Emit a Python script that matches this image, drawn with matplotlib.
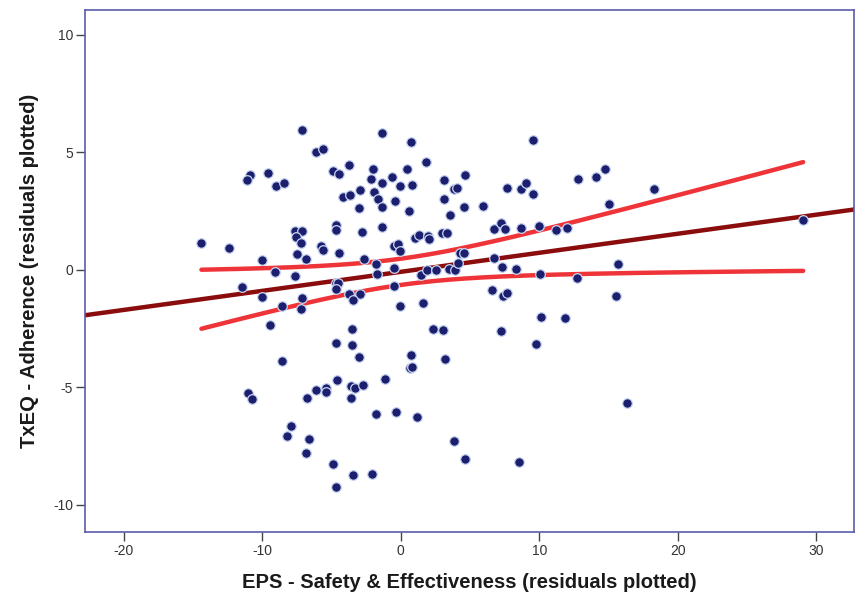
import numpy as np
import matplotlib
matplotlib.use('Agg')
import matplotlib.pyplot as plt

# residuals
eps_resid = [
    -7.10, -1.32, 0.76, -6.14, -5.61, 1.81, -10.88, -11.12, -9.62, -9.03,
    -8.43, -4.89, -4.45, -3.73, -2.00, -2.17, -1.39, -0.63, 0.47, -0.07,
    0.79, -4.14, -3.66, -2.94, -1.93, -1.61, -1.32, -3.05, -0.43, 0.56,
    3.13, 3.85, 4.04, 4.62, 3.13, 3.52, 4.57, 5.94, 7.70, 8.70,
    9.03, 9.57, 12.83, 14.13, 14.74, 18.29, 15.02, 9.55,
    -7.63, -7.13, -7.58, -7.17, -4.66, -4.64, -2.82, -1.32, -14.39, -12.40,
    -5.78, -5.61, -4.46, -7.46, -6.82, -10.04, -0.47, -0.23, -0.07, -2.65,
    -9.06, -7.65, -1.77, -1.73, -0.48, -11.48, -4.69, -4.50, -4.69, 1.06,
    1.32, 1.95, 2.04, 3.00, 3.34, 4.30, 4.58, 1.44, 1.93, 2.55,
    3.50, 3.90, 4.12, 6.71, 7.27, 7.55, 8.66, 10.01, 11.19, 11.99,
    6.75, 7.34, 8.30, 10.07, 12.71, 15.65, 29.05, -0.48,
    -10.04, -3.75, -2.97, -3.45, -7.10, -8.54, -7.22, -0.02, 1.57, -9.42,
    -3.49, 2.31, 3.07, -4.69, -3.49, -3.05, -8.54, 0.72, 0.67, 0.84,
    3.20, -11.03, -10.76, -6.79, -6.14, -5.42, -5.42, -4.62, -3.61, -3.32,
    -2.72, -3.61, -1.16, -1.81, -0.31, 1.16, -7.89, -8.23, -6.62, -6.81,
    3.81, 4.62, -4.89, -3.44, -2.09, -4.69, 10.11, 11.86, 7.22, 9.75,
    16.30, 8.52, 6.59, 7.36, 7.65, 15.52,
]
txeq_resid = [
    5.94, 5.84, 5.46, 5.01, 5.16, 4.57, 4.03, 3.81, 4.14, 3.57,
    3.71, 4.20, 4.09, 4.45, 4.28, 3.88, 3.71, 3.95, 4.28, 3.55,
    3.61, 3.11, 3.17, 3.38, 3.33, 3.00, 2.69, 2.65, 2.93, 2.50,
    3.81, 3.45, 3.50, 4.02, 3.03, 2.35, 2.67, 2.71, 3.50, 3.46,
    3.71, 3.21, 3.85, 3.95, 4.31, 3.43, 2.81, 5.52,
    1.64, 1.64, 1.40, 1.13, 1.89, 1.69, 1.60, 1.82, 1.16, 0.94,
    1.03, 0.85, 0.73, 0.66, 0.48, 0.42, 1.02, 1.11, 0.80, 0.48,
    -0.11, -0.26, 0.23, -0.17, 0.09, -0.74, -0.54, -0.55, -0.82, 1.35,
    1.47, 1.46, 1.32, 1.55, 1.58, 0.73, 0.73, -0.23, 0.00, -0.01,
    0.02, -0.02, 0.31, 1.74, 1.98, 1.75, 1.77, 1.85, 1.68, 1.80,
    0.51, 0.11, 0.04, -0.19, -0.34, 0.23, 2.11, -0.69,
    -1.14, -1.04, -1.04, -1.29, -1.21, -1.55, -1.65, -1.54, -1.41, -2.34,
    -2.53, -2.51, -2.57, -3.13, -3.20, -3.71, -3.88, -3.64, -4.19, -4.12,
    -3.81, -5.23, -5.48, -5.46, -5.11, -5.01, -5.20, -4.69, -4.94, -5.01,
    -4.89, -5.44, -4.63, -6.15, -6.03, -6.26, -6.65, -7.07, -7.18, -7.81,
    -7.29, -8.03, -8.28, -8.73, -8.70, -9.23, -2.01, -2.03, -2.60, -3.17,
    -5.65, -8.16, -0.87, -1.10, -0.99, -1.10,
]

x_ticks = [-20, -10, 0, 10, 20, 30]
y_ticks = [-10, -5, 0, 5, 10]

x = np.array(eps_resid)
y = np.array(txeq_resid)

# linear fit and 95% confidence band of the mean
n = len(x)
slope, icept = np.polyfit(x, y, 1)
resid = y - (slope * x + icept)
s = np.sqrt(np.sum(resid ** 2) / (n - 2))
sxx = np.sum((x - x.mean()) ** 2)
t = 1.975

xlim = (-22.8, 32.7)
xf = np.linspace(xlim[0], xlim[1], 200)
xc = np.linspace(x.min(), x.max(), 200)
yc = slope * xc + icept
half = t * s * np.sqrt(1.0 / n + (xc - x.mean()) ** 2 / sxx)

plt.rcParams['font.family'] = ['Liberation Sans', 'DejaVu Sans']
plt.rcParams['axes.unicode_minus'] = False
fig = plt.figure(figsize=(8.58, 5.97), dpi=100)
ax = fig.add_axes([0.099, 0.109, 0.896, 0.874])

ax.plot(xf, slope * xf + icept, color='#8b0c0c', lw=3.2, zorder=2, solid_capstyle='round')
ax.plot(xc, yc + half, color='#ee3438', lw=3.2, zorder=2, solid_capstyle='round')
ax.plot(xc, yc - half, color='#ee3438', lw=3.2, zorder=2, solid_capstyle='round')
ax.scatter(x, y, s=48, color='#1c1f6e', edgecolors='#c9d6f0', linewidths=0.9, zorder=3)

ax.set_xlim(xlim)
ax.set_ylim(-11.15, 11.05)
ax.set_xticks(x_ticks)
ax.set_yticks(y_ticks)
for sp in ax.spines.values():
    sp.set_color('#5a5ca8')
    sp.set_linewidth(1.2)
ax.tick_params(axis='both', direction='out', length=6.5, width=1, color='#444444',
               labelsize=10, labelcolor='#333333', pad=2)
ax.tick_params(top=False, right=False)

ax.set_xlabel('EPS - Safety & Effectiveness (residuals plotted)', fontsize=14.5,
              fontweight='bold', color='#1a1a1a', labelpad=11)
ax.set_ylabel('TxEQ - Adherence (residuals plotted)', fontsize=14.5,
              fontweight='bold', color='#1a1a1a', labelpad=10)

fig.savefig('out.png', dpi=100)
